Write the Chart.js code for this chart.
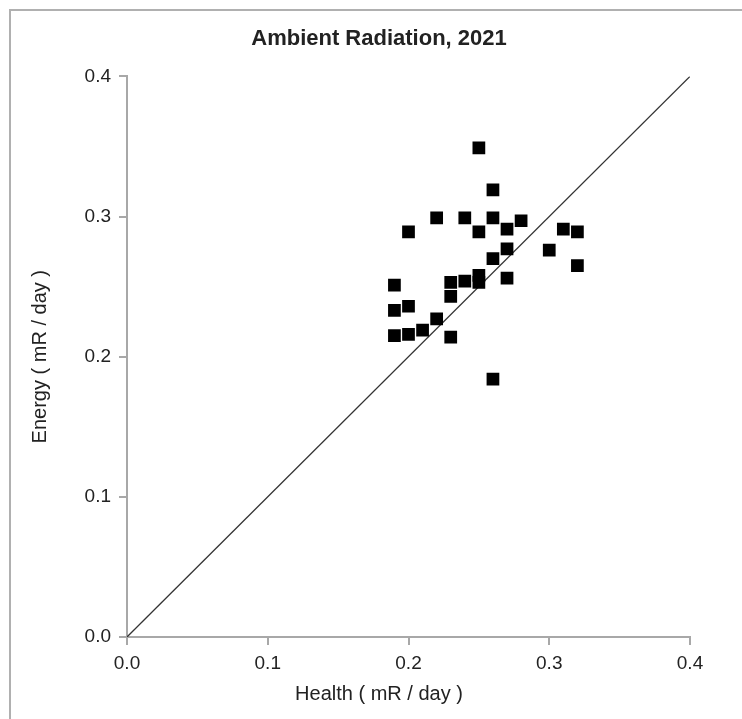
<!DOCTYPE html>
<html lang="en">
  <head>
    <meta charset="UTF-8" />
    <title>Ambient Radiation, 2021</title>
    <script src="https://cdn.jsdelivr.net/npm/chart.js"></script>
    <style>
      html, body { margin: 0; padding: 0; background: #fff; }
      .wrap { position: relative; width: 742px; height: 719px; }
      .frame {
        position: absolute; left: 9px; top: 9px; right: 0; bottom: 0;
        border-left: 2px solid #b0b0b0; border-top: 2px solid #b0b0b0;
      }
      canvas { position: absolute; left: 0; top: 0; }
    </style>
  </head>
  <body>
    <div class="wrap">
      <div class="frame"></div>
      <canvas id="radChart" width="742" height="719"></canvas>
    </div>

    <script>
      // Health vs Energy readings (mR / day)
      const health = [
        0.19, 0.19, 0.19, 0.20, 0.20, 0.20, 0.21, 0.22, 0.22, 0.23,
        0.23, 0.23, 0.24, 0.24, 0.25, 0.25, 0.25, 0.25, 0.26, 0.26,
        0.26, 0.26, 0.27, 0.27, 0.27, 0.28, 0.30, 0.31, 0.32, 0.32,
      ];
      const energy = [
        0.251, 0.233, 0.215, 0.216, 0.236, 0.289, 0.219, 0.227, 0.299, 0.243,
        0.253, 0.214, 0.299, 0.254, 0.349, 0.289, 0.258, 0.253, 0.319, 0.299,
        0.270, 0.184, 0.291, 0.277, 0.256, 0.297, 0.276, 0.291, 0.289, 0.265,
      ];
      const identityX = [0, 0.4];
      const identityY = [0, 0.4];

      const axisGray = "#a8a8a8";
      const textCol = "#222";
      const fam = "Arial, 'Liberation Sans', sans-serif";

      const ctx = document.getElementById("radChart").getContext("2d");
      new Chart(ctx, {
        type: "scatter",
        data: {
          datasets: [
            {
              label: "Readings",
              data: health.map((h, i) => ({ x: h, y: energy[i] })),
              pointStyle: "rect",
              pointRadius: 9,
              pointHoverRadius: 9,
              backgroundColor: "#000",
              borderWidth: 0,
            },
            {
              label: "1:1",
              data: identityX.map((v, i) => ({ x: v, y: identityY[i] })),
              showLine: true,
              borderColor: "#333",
              borderWidth: 1.3,
              pointRadius: 0,
            },
          ],
        },
        options: {
          responsive: false,
          animation: false,
          layout: { padding: { left: 16, right: 0, top: 0, bottom: 0 } },
          plugins: {
            legend: { display: false },
            tooltip: { enabled: false },
            title: {
              display: true,
              text: "Ambient Radiation, 2021",
              color: textCol,
              font: { family: fam, size: 22, weight: "bold" },
              padding: { top: 26, bottom: 24 },
            },
            subtitle: {
              display: true,
              position: "bottom",
              text: "Health ( mR / day )",
              color: textCol,
              font: { family: fam, size: 20 },
              padding: { top: 0, bottom: 13 },
            },
          },
          scales: {
            x: {
              type: "linear",
              min: 0,
              max: 0.4,
              ticks: {
                stepSize: 0.1,
                color: textCol,
                padding: 7,
                font: { family: fam, size: 19 },
                callback: (v) => v.toFixed(1),
              },
              grid: { drawOnChartArea: false, tickLength: 8, color: axisGray, lineWidth: 2 },
              border: { color: axisGray, width: 2 },
              afterFit: (s) => { s.height = 45; },
            },
            y: {
              type: "linear",
              min: 0,
              max: 0.4,
              ticks: {
                stepSize: 0.1,
                color: textCol,
                padding: 8,
                font: { family: fam, size: 19 },
                callback: (v) => v.toFixed(1),
              },
              title: {
                display: true,
                text: "Energy ( mR / day )",
                color: textCol,
                font: { family: fam, size: 20 },
                padding: { top: 12, bottom: 0 },
              },
              grid: { drawOnChartArea: false, tickLength: 8, color: axisGray, lineWidth: 2 },
              border: { color: axisGray, width: 2 },
              afterFit: (s) => { s.width = 111; },
            },
            // empty right-hand box that keeps the plot clear of the right edge
            yRight: {
              type: "linear",
              position: "right",
              min: 0,
              max: 0.4,
              ticks: { display: false },
              grid: { display: false },
              border: { display: false },
              afterFit: (s) => { s.width = 52; },
            },
          },
        },
      });
    </script>
  </body>
</html>
